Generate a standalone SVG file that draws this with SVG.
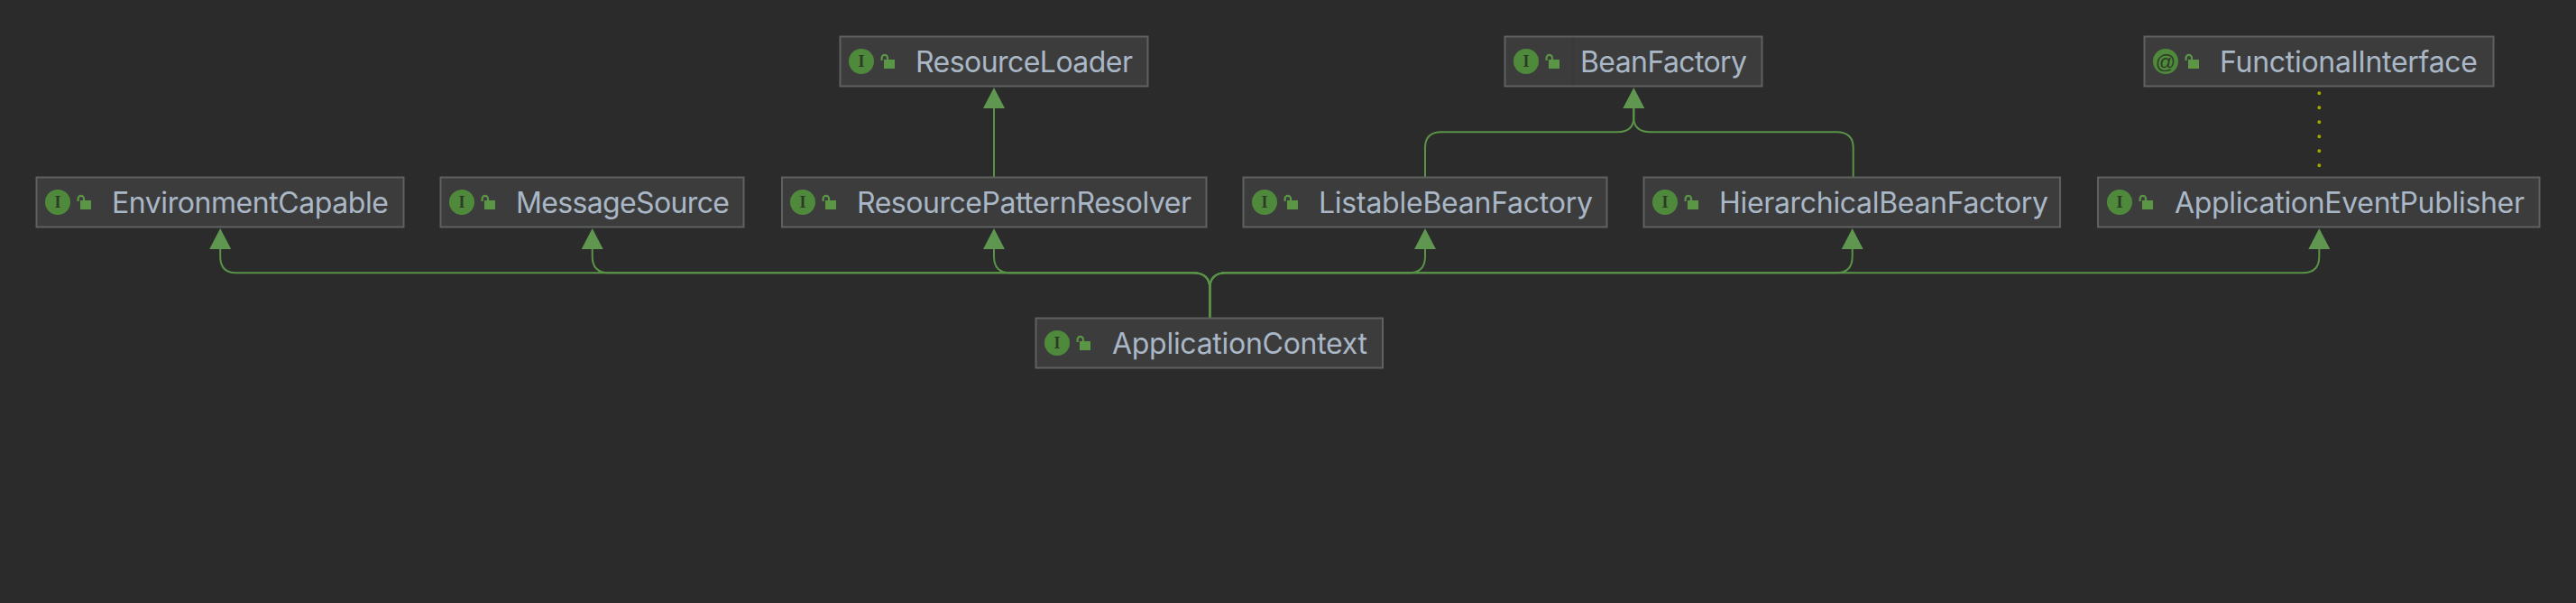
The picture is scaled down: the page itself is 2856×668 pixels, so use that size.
<svg xmlns="http://www.w3.org/2000/svg" width="2856" height="668" viewBox="0 0 2856 668">
<style>
.box{fill:#3c3c3c;stroke:#5f6060;stroke-width:2}
.badge{fill:#4f8a3c}
.g{fill:#a9b7c6;font:32px Inter,"Liberation Sans",sans-serif}
.bi{fill:#2c3a26;font:bold 18px "Liberation Serif",serif;text-anchor:middle}
.at{fill:#2c3a26;font:22px "Liberation Sans",sans-serif;text-anchor:middle}
.lock{fill:#5a9645}
.shackle{fill:none;stroke:#5a9645;stroke-width:2.2}
.edge{fill:none;stroke:#5a9347;stroke-width:2}
.dot{fill:none;stroke:#a3a300;stroke-width:4;stroke-linecap:round;stroke-dasharray:0 16}
.arrow{fill:#5f9650}
</style>
<defs>
<g id="lk"><rect class="lock" x="3" y="12" width="12" height="10"/><path class="shackle" d="M0.600 13V10a3.200 3.200 0 0 1 6.400 0V12"/></g>
</defs>
<rect width="2856" height="668" fill="#2b2b2b"/>
<g id="connectors">
<path class="edge" d="M1102 196V120"/>
<path class="edge" d="M1580 196V164Q1580 146.300 1598 146.300H1793Q1811.300 146.300 1811.300 130V120"/>
<path class="edge" d="M2054.700 196V164Q2054.700 146.300 2036 146.300H1830Q1811.300 146.300 1811.300 130V120"/>
<path class="edge" d="M1341.300 352V320Q1341.300 302.300 1323 302.300H262Q244.200 302.300 244.200 284V266"/>
<path class="edge" d="M1341.300 352V320Q1341.300 302.300 1323 302.300H675Q656.700 302.300 656.700 284V266"/>
<path class="edge" d="M1341.300 352V320Q1341.300 302.300 1323 302.300H1120Q1102 302.300 1102 284V266"/>
<path class="edge" d="M1341.300 352V320Q1341.300 302.300 1359 302.300H1562Q1580 302.300 1580 284V266"/>
<path class="edge" d="M1341.300 352V320Q1341.300 302.300 1359 302.300H2036Q2053.700 302.300 2053.700 284V266"/>
<path class="edge" d="M1341.300 352V320Q1341.300 302.300 1359 302.300H2553Q2571.300 302.300 2571.300 284V266"/>
<path class="dot" d="M2571.300 103.300V190"/>
<path class="arrow" d="M1102 97l12 23h-24z"/>
<path class="arrow" d="M1811.300 97l12 23h-24z"/>
<path class="arrow" d="M244.200 253l12 23h-24z"/>
<path class="arrow" d="M656.700 253l12 23h-24z"/>
<path class="arrow" d="M1102 253l12 23h-24z"/>
<path class="arrow" d="M1580 253l12 23h-24z"/>
<path class="arrow" d="M2053.700 253l12 23h-24z"/>
<path class="arrow" d="M2571.300 253l12 23h-24z"/>
</g>
<g id="EnvironmentCapable"><rect class="box" x="40.500" y="196.500" width="407" height="55"/><circle class="badge" cx="64" cy="224" r="14"/><text class="bi" x="64" y="230">I</text><use href="#lk" x="86" y="210"/><text class="g" x="124" y="236" textLength="307">EnvironmentCapable</text></g>
<g id="MessageSource"><rect class="box" x="488.500" y="196.500" width="336" height="55"/><circle class="badge" cx="512" cy="224" r="14"/><text class="bi" x="512" y="230">I</text><use href="#lk" x="534" y="210"/><text class="g" x="572" y="236" textLength="237">MessageSource</text></g>
<g id="ResourcePatternResolver"><rect class="box" x="867" y="196.500" width="470.500" height="55"/><circle class="badge" cx="890" cy="224" r="14"/><text class="bi" x="890" y="230">I</text><use href="#lk" x="912" y="210"/><text class="g" x="950" y="236" textLength="371">ResourcePatternResolver</text></g>
<g id="ResourceLoader"><rect class="box" x="931.500" y="40.500" width="341" height="55"/><circle class="badge" cx="955" cy="68" r="14"/><text class="bi" x="955" y="74">I</text><use href="#lk" x="977" y="54"/><text class="g" x="1015" y="80" textLength="241">ResourceLoader</text></g>
<g id="ListableBeanFactory"><rect class="box" x="1378.500" y="196.500" width="403" height="55"/><circle class="badge" cx="1402" cy="224" r="14"/><text class="bi" x="1402" y="230">I</text><use href="#lk" x="1424" y="210"/><text class="g" x="1462" y="236" textLength="304">ListableBeanFactory</text></g>
<g id="HierarchicalBeanFactory"><rect class="box" x="1822.500" y="196.500" width="461.500" height="55"/><circle class="badge" cx="1846" cy="224" r="14"/><text class="bi" x="1846" y="230">I</text><use href="#lk" x="1868" y="210"/><text class="g" x="1906" y="236" textLength="365">HierarchicalBeanFactory</text></g>
<g id="BeanFactory"><rect class="box" x="1668.500" y="40.500" width="285" height="55"/><line x1="1744" y1="41.500" x2="1744" y2="94.500" stroke="#373737" stroke-width="1"/><circle class="badge" cx="1692" cy="68" r="14"/><text class="bi" x="1692" y="74">I</text><use href="#lk" x="1714" y="54"/><text class="g" x="1752" y="80" textLength="185">BeanFactory</text></g>
<g id="FunctionalInterface"><rect class="box" x="2377.500" y="40.500" width="387" height="55"/><circle class="badge" cx="2401" cy="68" r="14"/><text class="at" x="2401" y="75.500">@</text><use href="#lk" x="2423" y="54"/><text class="g" x="2461" y="80" textLength="286">FunctionalInterface</text></g>
<g id="ApplicationEventPublisher"><rect class="box" x="2326" y="196.500" width="489.500" height="55"/><circle class="badge" cx="2350" cy="224" r="14"/><text class="bi" x="2350" y="230">I</text><use href="#lk" x="2372" y="210"/><text class="g" x="2411" y="236" textLength="388">ApplicationEventPublisher</text></g>
<g id="ApplicationContext"><rect class="box" x="1148.500" y="352.500" width="384.500" height="55"/><circle class="badge" cx="1172" cy="380" r="14"/><text class="bi" x="1172" y="386">I</text><use href="#lk" x="1194" y="366"/><text class="g" x="1233" y="392" textLength="283">ApplicationContext</text></g>
</svg>
